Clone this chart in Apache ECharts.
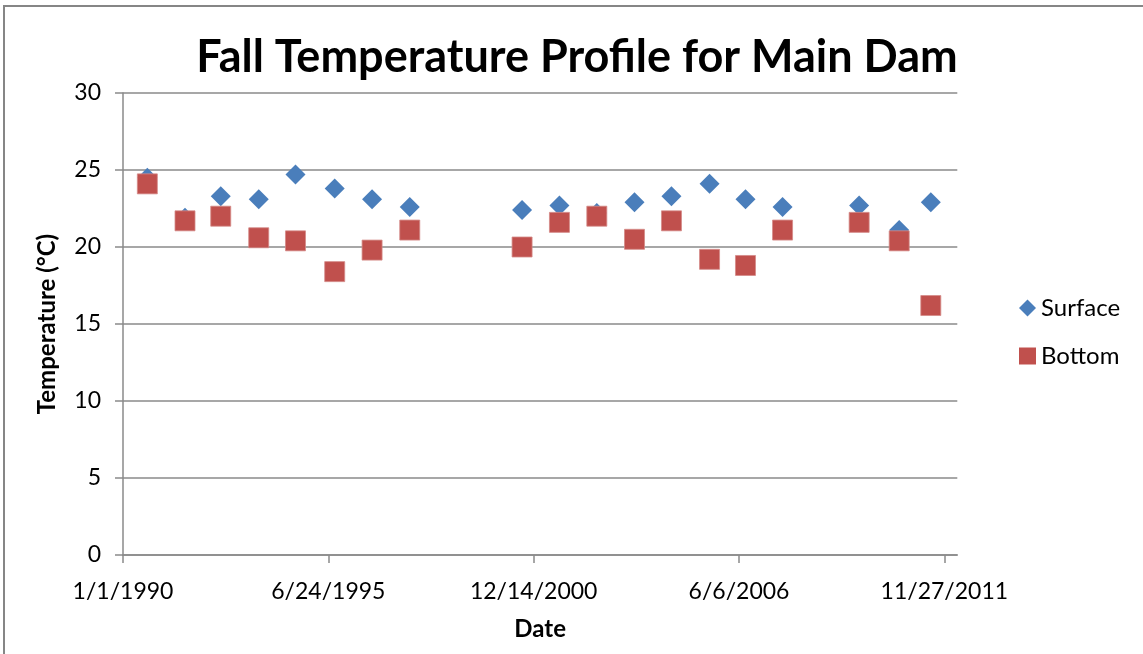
<!DOCTYPE html>
<html>
<head>
<meta charset="utf-8">
<script src="https://cdn.jsdelivr.net/npm/echarts@6/dist/echarts.min.js"></script>
<style>
  html, body { margin: 0; padding: 0; background: #fff; overflow: hidden; }
  #frame { position: absolute; left: 3px; top: 5px; width: 1200px; height: 700px; border: 2px solid #868686; box-sizing: border-box; }
  #chart { position: absolute; left: 0; top: 0; width: 1143px; height: 654px; }
</style>
</head>
<body>
<div id="frame"></div>
<div id="chart"></div>
<script>
// ---- data ----
var dates = ['1990-08-26','1991-08-28','1992-08-10','1993-08-15','1994-08-08','1995-08-25','1996-08-23','1997-08-25',
             '2000-08-23','2001-08-22','2002-08-21','2003-08-23','2004-08-17','2005-08-23','2006-08-08','2007-08-04',
             '2009-08-19','2010-09-13','2011-07-18'];
var surface = [24.5, 21.9, 23.3, 23.1, 24.7, 23.8, 23.1, 22.6, 22.4, 22.7, 22.2, 22.9, 23.3, 24.1, 23.1, 22.6, 22.7, 21.1, 22.9];
var bottom  = [24.1, 21.7, 22.0, 20.6, 20.4, 18.4, 19.8, 21.1, 20.0, 21.6, 22.0, 20.5, 21.7, 19.2, 18.8, 21.1, 21.6, 20.4, 16.2];
var xTickLabels = ['1/1/1990', '6/24/1995', '12/14/2000', '6/6/2006', '11/27/2011'];
var yTicks = [0, 5, 10, 15, 20, 25, 30];

// ---- helpers: dates as day counts from 1/1/1990 ----
var DAY = 86400000;
var ORIGIN = Date.UTC(1990, 0, 1);
function isoToDays(s) { var p = s.split('-'); return Math.round((Date.UTC(+p[0], +p[1] - 1, +p[2]) - ORIGIN) / DAY); }
function mdyToDays(s) { var p = s.split('/'); return Math.round((Date.UTC(+p[2], +p[0] - 1, +p[1]) - ORIGIN) / DAY); }
function daysToMdy(d) { var t = new Date(ORIGIN + Math.round(d) * DAY); return (t.getUTCMonth() + 1) + '/' + t.getUTCDate() + '/' + t.getUTCFullYear(); }

var xTickValues = xTickLabels.map(mdyToDays);
var xDays = dates.map(isoToDays);
var surfaceData = xDays.map(function (d, i) { return [d, surface[i]]; });
var bottomData = xDays.map(function (d, i) { return [d, bottom[i]]; });

var FONT = 'Lato';
var grey = '#8a8a8a';

var chart = echarts.init(document.getElementById('chart'), null, { renderer: 'canvas' });
chart.setOption({
  animation: false,
  backgroundColor: 'transparent',
  title: {
    text: 'Fall Temperature Profile for Main Dam',
    left: 572, top: 30, textAlign: 'center',
    textStyle: { fontFamily: FONT, fontWeight: 'bold', fontSize: 45, color: '#000' }
  },
  legend: {
    orient: 'vertical',
    left: 1014, top: 290,
    itemWidth: 17, itemHeight: 17, itemGap: 22,
    textStyle: { fontFamily: FONT, fontSize: 24, color: '#000', lineHeight: 26 },
    data: [
      { name: 'Surface', icon: 'diamond', itemStyle: { borderWidth: 0 } },
      { name: 'Bottom', icon: 'rect', itemStyle: { borderWidth: 0 } }
    ]
  },
  grid: { left: 123, right: 185.7, top: 93, bottom: 99, containLabel: false },
  xAxis: {
    type: 'value',
    min: 0, max: 8126,
    name: 'Date', nameLocation: 'middle', nameGap: 62,
    nameTextStyle: { fontFamily: FONT, fontWeight: 'bold', fontSize: 24, color: '#000' },
    axisLine: { onZero: false, lineStyle: { color: grey, width: 1.5 } },
    axisTick: { show: true, length: 8, customValues: xTickValues, lineStyle: { color: grey, width: 1.5 } },
    axisLabel: { customValues: xTickValues, formatter: function (v) { return daysToMdy(v); },
                 fontFamily: FONT, fontSize: 23, color: '#000', margin: 25 },
    splitLine: { show: false }
  },
  yAxis: {
    type: 'value',
    min: yTicks[0], max: yTicks[yTicks.length - 1], interval: 5,
    name: 'Temperature (°C)', nameLocation: 'middle', nameGap: 64, nameRotate: 90,
    nameTextStyle: { fontFamily: FONT, fontWeight: 'bold', fontSize: 24, color: '#000' },
    axisLine: { show: true, lineStyle: { color: grey, width: 1.5 } },
    axisTick: { show: true, length: 8, lineStyle: { color: grey, width: 1.5 } },
    axisLabel: { fontFamily: FONT, fontSize: 23, color: '#000', margin: 22 },
    splitLine: { show: true, lineStyle: { color: grey, width: 1.5 } }
  },
  series: [
    {
      name: 'Surface', type: 'scatter', symbol: 'diamond', symbolSize: 20,
      itemStyle: { color: '#4A7EBB', opacity: 1 },
      data: surfaceData, z: 2
    },
    {
      name: 'Bottom', type: 'scatter', symbol: 'rect', symbolSize: 20,
      itemStyle: { color: '#C0504D', borderColor: '#D48A88', borderWidth: 0.8, opacity: 1 },
      data: bottomData, z: 3
    }
  ]
});
</script>
</body>
</html>
